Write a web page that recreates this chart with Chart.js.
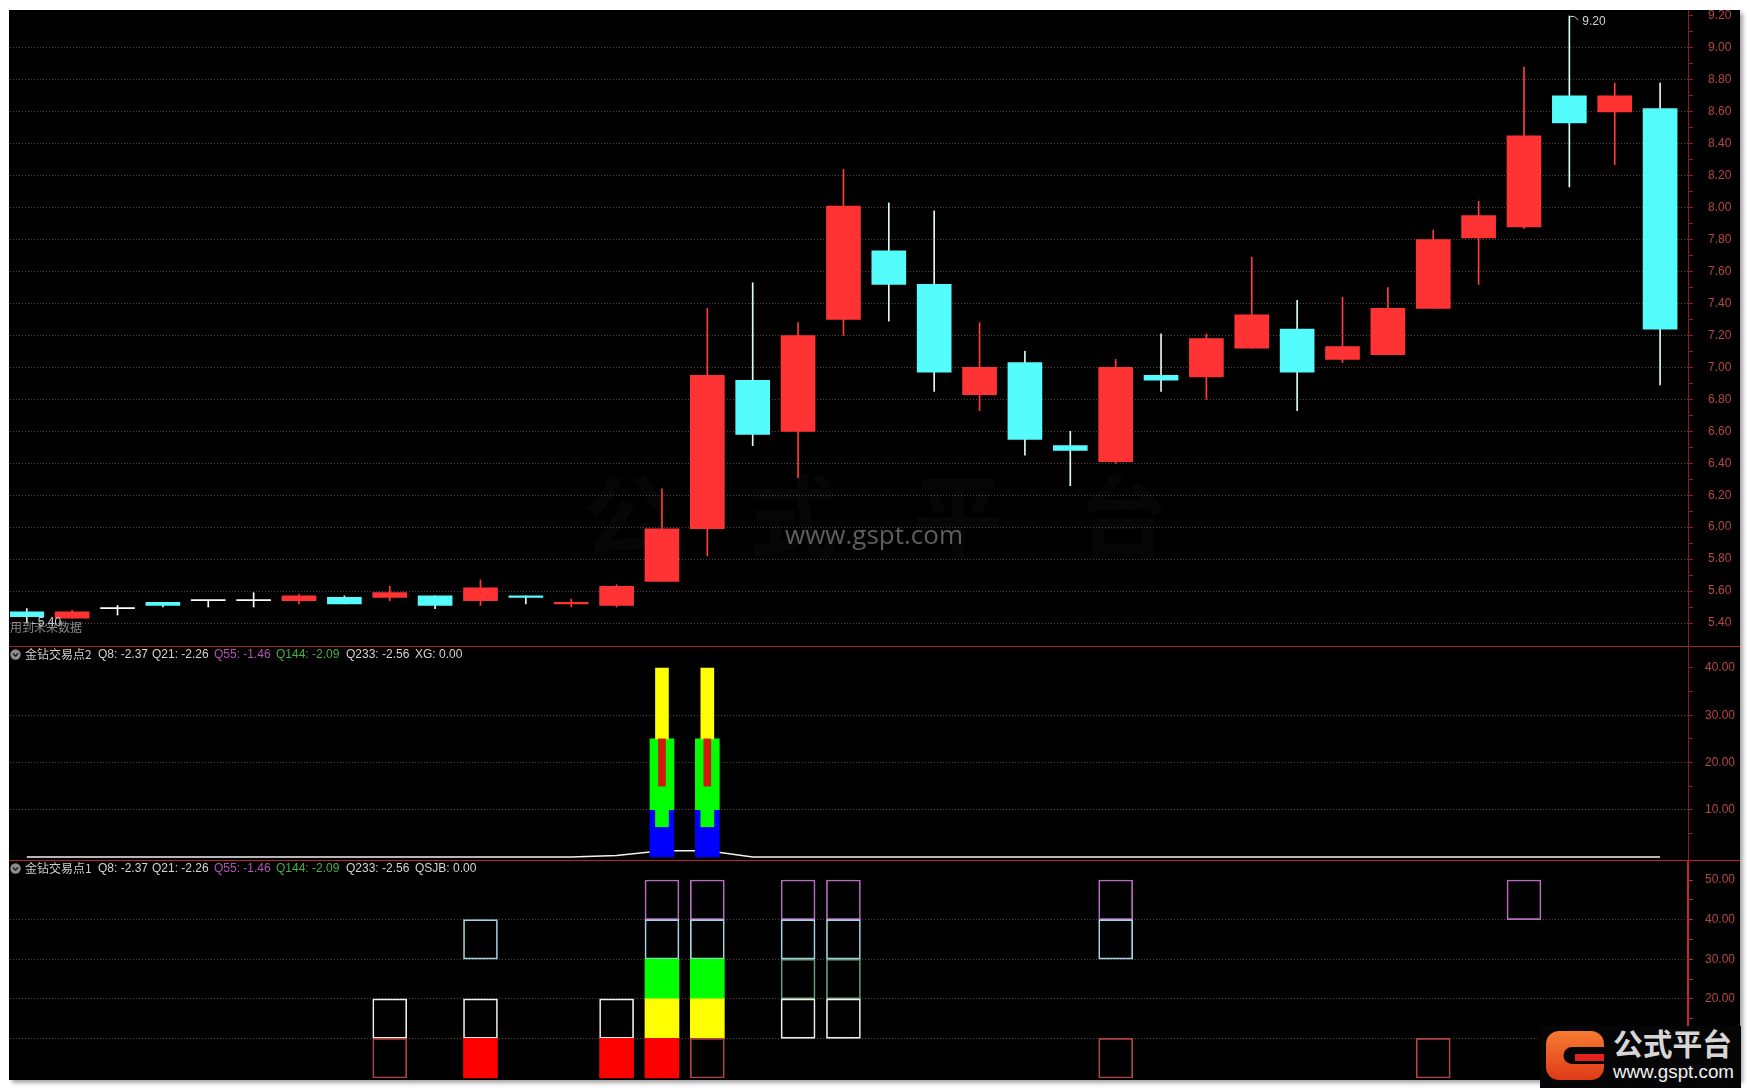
<!DOCTYPE html>
<html>
<head>
<meta charset="utf-8">
<title>金钻交易点</title>
<script src="https://cdn.jsdelivr.net/npm/chart.js@4.4.1/dist/chart.umd.min.js"></script>
<style>
  html, body { margin:0; padding:0; width:1750px; height:1090px; background:#fff; overflow:hidden; }
  #screen { position:absolute; left:9px; top:10px; width:1731px; height:1070px; background:#000;
            box-shadow: 3px 3px 4px rgba(0,0,0,0.35); }
  .wrap { position:absolute; left:10px; width:1730px; overflow:hidden; }
  .wrap canvas { position:absolute; left:0; }
  .rule { position:absolute; left:9px; width:1731px; height:1px; background:#a02424; }
  .hdr { position:absolute; left:0; width:600px; height:14px; line-height:14px; white-space:nowrap;
         font-size:12px; font-family:"Liberation Sans","Noto Sans CJK SC",sans-serif; color:#d4d4d4; }
  .hdr span, .hdr svg { position:absolute; top:0; }
  .t { color:#cccccc; font-family:"Noto Sans CJK SC","Liberation Sans",sans-serif; }
  .p { color:#b455b4; }
  .g { color:#45b045; }
  #logo { position:absolute; left:1540px; top:1026px; }
</style>
</head>
<body>
<div id="screen"></div>

<div class="wrap" style="top:10px;height:636px"><canvas id="kline" width="1730" height="646" style="top:-10px;width:1730px;height:646px"></canvas></div>
<div class="rule" style="top:646px"></div>
<div class="wrap" style="top:647px;height:213px"><canvas id="xg" width="1730" height="213" style="top:0;width:1730px;height:213px"></canvas></div>
<div class="rule" style="top:860px;background:#b82828"></div>
<div class="wrap" style="top:861px;height:219px"><canvas id="qsjb" width="1730" height="219" style="top:0;width:1730px;height:219px"></canvas></div>

<div class="hdr" style="top:647px">
  <svg width="11" height="11" style="left:10px;top:1.5px"><circle cx="5.5" cy="5.5" r="5.2" fill="#8c8c8c"/><polyline points="3,4.5 5.5,7 8,4.5" fill="none" stroke="#1a1a1a" stroke-width="1.4"/></svg>
  <span class="t" style="left:25px">金钻交易点2</span>
  <span style="left:98px">Q8: -2.37</span>
  <span style="left:152px">Q21: -2.26</span>
  <span class="p" style="left:214px">Q55: -1.46</span>
  <span class="g" style="left:276px">Q144: -2.09</span>
  <span style="left:346px">Q233: -2.56</span>
  <span style="left:415px">XG: 0.00</span>
</div>
<div class="hdr" style="top:861px">
  <svg width="11" height="11" style="left:10px;top:1.5px"><circle cx="5.5" cy="5.5" r="5.2" fill="#8c8c8c"/><polyline points="3,4.5 5.5,7 8,4.5" fill="none" stroke="#1a1a1a" stroke-width="1.4"/></svg>
  <span class="t" style="left:25px">金钻交易点1</span>
  <span style="left:98px">Q8: -2.37</span>
  <span style="left:152px">Q21: -2.26</span>
  <span class="p" style="left:214px">Q55: -1.46</span>
  <span class="g" style="left:276px">Q144: -2.09</span>
  <span style="left:346px">Q233: -2.56</span>
  <span style="left:415px">QSJB: 0.00</span>
</div>

<svg id="logo" width="201" height="62">
  <defs>
    <linearGradient id="og" x1="0" y1="0" x2="0" y2="1">
      <stop offset="0" stop-color="#f57b32"/>
      <stop offset="1" stop-color="#e13a17"/>
    </linearGradient>
  </defs>
  <rect width="201" height="62" fill="#050505"/>
  <rect x="6" y="5" width="58" height="49" rx="13" fill="url(#og)"/>
  <path d="M64 21 H32 a8.5 8.5 0 0 0 0 17 H64 Z" fill="#050505"/>
  <rect x="35" y="28" width="29" height="7" fill="#e52222"/>
  <text x="73" y="29" font-family="Noto Sans CJK SC" font-weight="700" font-size="30" fill="#d6d6d6" textLength="119" lengthAdjust="spacingAndGlyphs">公式平台</text>
  <text x="73" y="52" font-family="Liberation Sans" font-size="18" fill="#f2f2f2" textLength="121" lengthAdjust="spacingAndGlyphs">www.gspt.com</text>
</svg>

<script>
// Daily candles: open / high / low / close
const opens  = [5.47,5.43,5.49,5.53,5.54,5.54,5.54,5.56,5.56,5.57,5.54,5.57,5.52,5.51,5.66,5.99,6.92,6.60,7.30,7.73,7.52,6.83,7.03,6.51,6.41,6.95,6.94,7.12,7.24,7.05,7.08,7.37,7.81,7.88,8.70,8.60,8.62];
const highs  = [5.49,5.48,5.51,5.53,5.54,5.59,5.58,5.57,5.63,5.57,5.67,5.57,5.55,5.64,6.24,7.37,7.53,7.28,8.24,8.03,7.98,7.28,7.10,6.60,7.05,7.21,7.21,7.69,7.42,7.44,7.50,7.86,8.04,8.88,9.20,8.78,8.78];
const lows   = [5.40,5.43,5.45,5.50,5.50,5.50,5.52,5.52,5.54,5.49,5.51,5.52,5.50,5.50,5.66,5.82,6.51,6.31,7.20,7.29,6.85,6.73,6.45,6.26,6.40,6.85,6.80,7.12,6.73,7.03,7.08,7.37,7.52,7.87,8.13,8.27,6.89];
const closes = [5.44,5.47,5.49,5.51,5.54,5.54,5.57,5.52,5.59,5.51,5.62,5.56,5.53,5.63,5.99,6.95,6.58,7.20,8.01,7.52,6.97,7.00,6.55,6.48,7.00,6.92,7.18,7.33,6.97,7.13,7.37,7.80,7.95,8.45,8.53,8.70,7.24];

// Axis ticks (labelled and minor)
const priceTicks = [5.40,5.60,5.80,6.00,6.20,6.40,6.60,6.80,7.00,7.20,7.40,7.60,7.80,8.00,8.20,8.40,8.60,8.80,9.00,9.20];
const priceMinor = [5.50,5.70,5.90,6.10,6.30,6.50,6.70,6.90,7.10,7.30,7.50,7.70,7.90,8.10,8.30,8.50,8.70,8.90,9.10];
const xgTicks    = [10,20,30,40];
const xgMinor    = [5,15,25,35];
const qsTicks    = [10,20,30,40,50];
const qsMinor    = [5,15,25,35,45];

// 金钻交易点2 (XG): baseline line and signal columns
const xgLine = [0,0,0,0,0,0,0,0,0,0,0,0,0,0.3,1.3,1.3,0,0,0,0,0,0,0,0,0,0,0,0,0,0,0,0,0,0,0,0,0];
const xgIdx  = [14,15];
const xgBase = [[0,10],[0,10]];
const xgBand = [[10,25],[10,25]];
const xgNeck = [[6.4,10],[6.4,10]];
const xgTop  = [[25,40],[25,40]];
const xgCore = [[15,25],[15,25]];

// 金钻交易点1 (QSJB): level bands and the days each band is lit
const qsLevels     = [[0,10],[10,20],[20,30],[30,40],[40,50]];
const qsRedFill    = [10,13,14];
const qsRedLine    = [8,15,24,31];
const qsYellowFill = [14,15];
const qsWhiteLine  = [8,10,13,17,18];
const qsGreenFill  = [14,15];
const qsGreenLine  = [17,18];
const qsCyanLine   = [10,14,15,17,18,24];
const qsPurpleLine = [14,15,17,18,24,33];

// ---------- styling ----------
const UP = '#ff3333', DOWN = '#55fcfc', FLAT = '#ffffff';
const WICK_UP = '#ff3b3b', WICK_DOWN = '#dcfafa';
const AXIS = '#8c1e1e', LABEL = '#b44848', GRID = '#574040';
const AXIS_W = 52, BODY_W = 34;
const X_MIN = -0.37, X_MAX = 36.615;

Chart.defaults.font.family = '"Liberation Sans", "Noto Sans CJK SC", sans-serif';
Chart.defaults.font.size = 12;

const idx = opens.map((_, i) => i);
const dir = i => closes[i] > opens[i] ? 1 : (closes[i] < opens[i] ? -1 : 0);

function yAxis(min, max, major, minor, pad, borderColor, borderWidth) {
  const top = Math.max(...major);
  const isMajor = v => major.some(m => Math.abs(m - v) < 1e-6);
  return {
    position: 'right', min, max,
    // fixed axis width; value range spans the whole canvas height
    afterFit: s => { s.width = AXIS_W; s.paddingTop = 0; s.paddingBottom = 0; },
    afterBuildTicks: s => { s.ticks = [...major, ...minor].sort((a, b) => a - b).map(v => ({ value: v })); },
    ticks: { autoSkip: false, color: LABEL, padding: pad, font: { size: 12 },
             callback: v => isMajor(v) ? v.toFixed(2) : '' },
    grid: { color: c => (c.tick && isMajor(c.tick.value) && Math.abs(c.tick.value - top) > 1e-6) ? GRID : 'rgba(0,0,0,0)',
            tickColor: borderColor, tickLength: 5, lineWidth: 1 },
    border: { color: borderColor, width: borderWidth, dash: [1, 2] }
  };
}

function baseOptions(y) {
  return {
    responsive: false, maintainAspectRatio: false, animation: false, events: [],
    layout: { padding: 0 },
    plugins: { legend: { display: false }, tooltip: { enabled: false } },
    scales: { x: { type: 'linear', min: X_MIN, max: X_MAX, offset: false, display: false }, y }
  };
}

// Watermark, notes and the extreme-price markers on the price pane
const priceDecor = {
  id: 'priceDecor',
  beforeDatasetsDraw(chart) {
    const c = chart.ctx;
    c.save();
    c.fillStyle = 'rgba(255,255,255,0.025)';
    c.font = '700 90px "Noto Sans CJK SC"';
    c.textAlign = 'center'; c.textBaseline = 'middle';
    ['公','式','平','台'].forEach((ch, k) => c.fillText(ch, 618 + k * 165, 516));
    c.fillStyle = '#5e5e5e';
    c.font = '26px "Open Sans"';
    c.textAlign = 'left'; c.textBaseline = 'alphabetic';
    c.fillText('www.gspt.com', 775, 544);
    c.restore();
  },
  afterDatasetsDraw(chart) {
    const { ctx: c, scales: { x, y } } = chart;
    c.save();
    c.font = '12px "Noto Sans CJK SC"';
    c.fillStyle = '#8a8a8a';
    c.textAlign = 'left'; c.textBaseline = 'middle';
    c.fillText('用到未来数据', 0, 627);

    const hi = Math.max(...highs), hiI = highs.indexOf(hi);
    const lo = Math.min(...lows), loI = lows.indexOf(lo);
    c.strokeStyle = '#c8c8c8'; c.fillStyle = '#cfcfcf'; c.lineWidth = 1;
    c.font = '12px "Liberation Sans"';
    const hx = x.getPixelForValue(hiI), hy = y.getPixelForValue(hi);
    c.beginPath(); c.moveTo(hx, hy + 0.5); c.lineTo(hx + 5, hy + 0.5); c.lineTo(hx + 9, hy + 4); c.stroke();
    c.fillText(hi.toFixed(2), hx + 13, hy + 6);
    const lx = x.getPixelForValue(loI), ly = y.getPixelForValue(lo);
    c.beginPath(); c.moveTo(lx, ly - 4); c.lineTo(lx, ly); c.moveTo(lx + 5, ly + 0.5); c.lineTo(lx + 9, ly + 0.5); c.stroke();
    c.fillText(lo.toFixed(2), lx + 11, ly);
    c.restore();
  }
};

// ---------- price pane ----------
new Chart(document.getElementById('kline'), {
  type: 'bar',
  data: {
    datasets: [
      { label: 'body', order: 1, grouped: false, barThickness: BODY_W, minBarLength: 1,
        data: idx.map(i => ({ x: i, y: [opens[i], closes[i]] })),
        backgroundColor: c => { const d = dir(c.dataIndex); return d > 0 ? UP : d < 0 ? DOWN : FLAT; } },
      { label: 'wick', order: 2, grouped: false, barThickness: 1,
        data: idx.map(i => ({ x: i, y: [lows[i], highs[i]] })),
        backgroundColor: c => { const d = dir(c.dataIndex); return d > 0 ? WICK_UP : d < 0 ? WICK_DOWN : FLAT; } }
    ]
  },
  options: baseOptions(yAxis(5.25609, 9.30016, priceTicks, priceMinor, 15, AXIS, 1)),
  plugins: [priceDecor]
});

// ---------- 金钻交易点2 pane ----------
function column(pairs, width, color, order) {
  return { type: 'bar', order, grouped: false, barThickness: width, backgroundColor: color,
           data: xgIdx.map((i, k) => ({ x: i, y: pairs[k] })) };
}
new Chart(document.getElementById('xg'), {
  type: 'bar',
  data: {
    datasets: [
      { type: 'line', label: 'XG', order: 20, data: xgLine.map((v, i) => ({ x: i, y: v })),
        borderColor: '#f2f2f2', borderWidth: 1.5, pointRadius: 0, tension: 0 },
      column(xgBase, 24, '#0000ff', 6),
      column(xgBand, 24, '#00ff00', 5),
      column(xgNeck, 13, '#00ff00', 4),
      column(xgTop, 13, '#ffff00', 3),
      column(xgCore, 7, '#d21a0a', 2)
    ]
  },
  options: baseOptions(yAxis(-0.635, 44.444, xgTicks, xgMinor, 12, AXIS, 1))
});

// ---------- 金钻交易点1 pane ----------
function boxes(days, level, fill, line) {
  return { type: 'bar', grouped: false, barThickness: BODY_W, borderSkipped: false,
           backgroundColor: fill || 'rgba(0,0,0,0)', borderColor: line || fill,
           borderWidth: line ? 1 : 0,
           data: days.map(i => ({ x: i, y: qsLevels[level] })) };
}
new Chart(document.getElementById('qsjb'), {
  type: 'bar',
  data: {
    datasets: [
      boxes(qsRedFill, 0, '#ff0000', null),
      boxes(qsRedLine, 0, null, '#b04444'),
      boxes(qsYellowFill, 1, '#ffff00', null),
      boxes(qsWhiteLine, 1, null, '#f0f0e4'),
      boxes(qsGreenFill, 2, '#00ff00', null),
      boxes(qsGreenLine, 2, null, '#6a9f78'),
      boxes(qsCyanLine, 3, null, '#a4d4e4'),
      boxes(qsPurpleLine, 4, null, '#b86cc0')
    ]
  },
  options: baseOptions(yAxis(-0.505, 54.798, qsTicks, qsMinor, 12, '#c42a2a', 2))
});
</script>
</body>
</html>
